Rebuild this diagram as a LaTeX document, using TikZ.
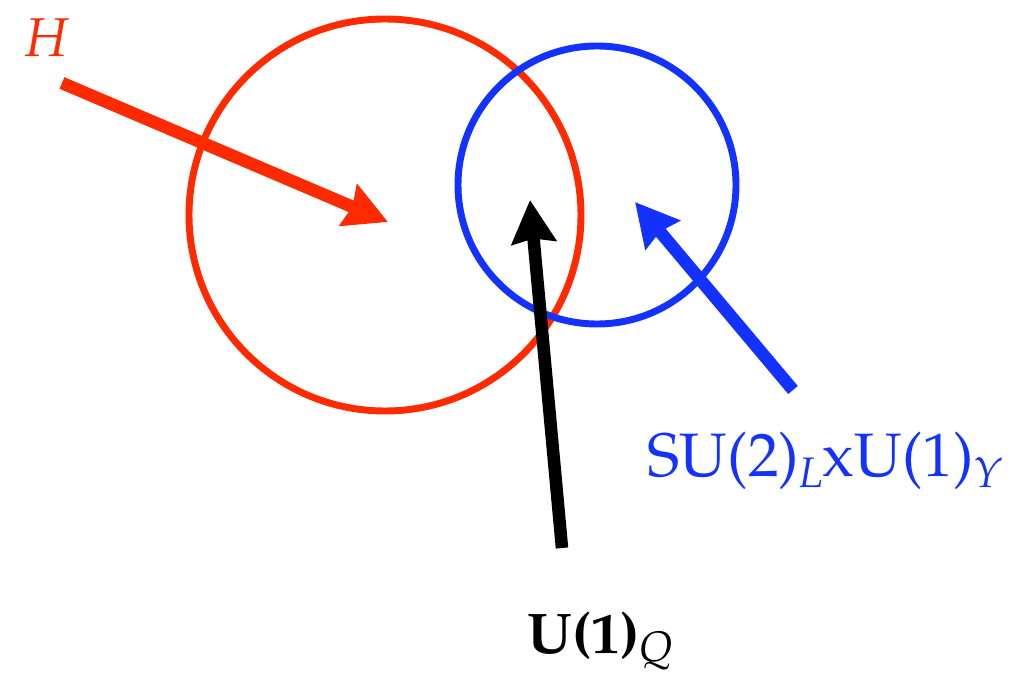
\documentclass[tikz,border=0pt]{standalone}
\usepackage[T1]{fontenc}
\usepackage{mathpazo}
\usetikzlibrary{arrows.meta}
\definecolor{hred}{RGB}{255,42,0}
\definecolor{hblue}{RGB}{20,50,255}
\begin{document}
\begin{tikzpicture}[x=0.75pt,y=-0.75pt,
  ring/.style={line width=5.2pt},
  bigarrow/.style={line width=9.4pt,-{Stealth[length=32pt,width=33pt,inset=3pt]}},
  lab/.style={inner sep=0pt,anchor=base}]
\useasboundingbox (0,0) rectangle (1017,673);
\draw[ring,hred] (385,215) circle[radius=196];
\draw[ring,hblue] (597,185) circle[radius=139];
\coordinate (hs) at (62,83);
\coordinate (ht) at (388,222);
\coordinate (qs) at (562,548);
\coordinate (qt) at (530,200);
\coordinate (ys) at (793,390);
\coordinate (yt) at (635,202);
\draw[bigarrow,hred] (hs) -- (ht);
\draw[bigarrow,black] (qs) -- (qt);
\draw[bigarrow,hblue] (ys) -- (yt);
\node[lab,text=hred,font=\fontsize{41}{49}\selectfont] (H) at (46,57) {$H$};
\node[lab,text=hblue,font=\fontsize{46}{54}\selectfont] (SU) at (825,476) {SU(2)\raisebox{-0.18em}{\fontsize{32}{38}\selectfont\itshape L}xU(1)\raisebox{-0.18em}{\fontsize{32}{38}\selectfont\itshape Y}};
\node[lab,text=black,font=\fontsize{43}{52}\selectfont] (UQ) at (600,653) {\textbf{U(1)}\raisebox{-0.15em}{\fontsize{32}{38}\selectfont\itshape Q}};
\end{tikzpicture}
\end{document}
